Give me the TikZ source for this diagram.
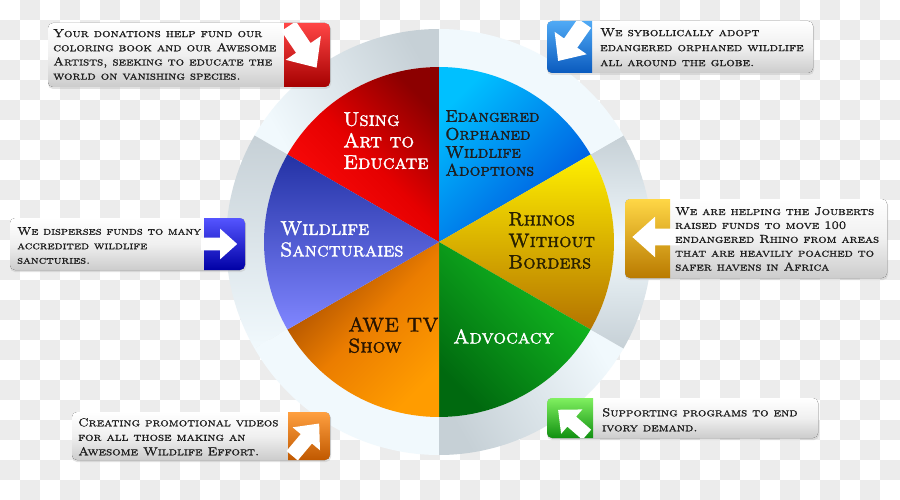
\documentclass[tikz,border=0pt]{standalone}
\usepackage{fontspec}
\newfontfamily\callfont{lmromancaps10-regular.otf}[FakeStretch=1.16,FakeBold=1.2]
\newfontfamily\piefont{lmromancaps10-regular.otf}[FakeBold=1.6]
\definecolor{checker}{HTML}{ECECEC}
\definecolor{ringlight}{HTML}{F1F9FD}
\definecolor{ringgray}{HTML}{C6D0D6}
\definecolor{ctxt}{HTML}{1E1E1E}
\tikzset{
  ctext/.style={anchor=north west, inner sep=0pt, align=left, text=ctxt,
    font=\callfont\fontsize{11.5}{14.2}\selectfont},
  ptext/.style={anchor=north west, inner sep=0pt, align=left,
    font=\piefont\fontsize{20}{21.5}\selectfont},
  boxbody/.style={rounded corners=5pt, top color=white, bottom color=black!20, middle color=black!6},
  boxshadow/.style={rounded corners=5pt, fill=black!25, opacity=0.45},
}
\newcommand\whitearrow[4]{%
  \fill[white, shift={(#1,#2)}, rotate=#3, scale=#4]
    (-22,-7) -- (-1,-7) -- (-1,-17) -- (18,0) -- (-1,17) -- (-1,7) -- (-22,7) -- cycle;}
\newcommand\ringseg[2]{%
  \path[top color=ringgray, bottom color=ringlight, shading angle={(#1+#2)/2+180}]
    (#1:213) arc[start angle=#1, end angle=#2, radius=213] -- (#2:175)
    arc[start angle=#2, end angle=#1, radius=175] -- cycle;}
\begin{document}
\begin{tikzpicture}[x=1pt,y=-1pt]
\useasboundingbox (0,0) rectangle (900,500);
\fill[white] (0,0) rectangle (900,500);
\foreach \i in {0,...,44}{\foreach \j in {0,...,24}{%
  \pgfmathtruncatemacro\chk{mod(\i+\j,2)}%
  \ifnum\chk=1 \fill[checker] (\i*20,\j*20) rectangle ++(20,20);\fi}}
% ---------- pie ----------
\begin{scope}[shift={(439,242)}, y=1pt]
  \ringseg{90}{150}
  \ringseg{150}{210}
  \path[fill=ringlight] (210:213) arc[start angle=210, end angle=270, radius=213] -- (270:175) arc[start angle=270, end angle=210, radius=175] -- cycle;
  \ringseg{270}{330}
  \path[top color=ringgray, bottom color=ringgray, middle color=ringlight] (-30:213) arc[start angle=-30, end angle=30, radius=213] -- (30:175) arc[start angle=30, end angle=-30, radius=175] -- cycle;
  \path[fill=ringlight] (30:213) arc[start angle=30, end angle=90, radius=213] -- (90:175) arc[start angle=90, end angle=30, radius=175] -- cycle;
  % slices
  \path[top color=red!95!white, bottom color=red!55!black, middle color=red!90!black, shading angle=135]
    (0,0) -- (90:175) arc[start angle=90, end angle=150, radius=175] -- cycle;
  \path[top color={rgb,255:red,0;green,192;blue,255}, bottom color={rgb,255:red,0;green,80;blue,220}, shading angle=45]
    (0,0) -- (30:175) arc[start angle=30, end angle=90, radius=175] -- cycle;
  \path[top color={rgb,255:red,255;green,240;blue,0}, bottom color={rgb,255:red,180;green,115;blue,0}, shading angle=0]
    (0,0) -- (-30:175) arc[start angle=-30, end angle=30, radius=175] -- cycle;
  \path[top color={rgb,255:red,20;green,195;blue,35}, bottom color={rgb,255:red,0;green,105;blue,15}, shading angle=315]
    (0,0) -- (270:175) arc[start angle=270, end angle=330, radius=175] -- cycle;
  \path[top color={rgb,255:red,160;green,72;blue,0}, bottom color={rgb,255:red,255;green,156;blue,0}, middle color={rgb,255:red,235;green,125;blue,0}, shading angle=45]
    (0,0) -- (210:175) arc[start angle=210, end angle=270, radius=175] -- cycle;
  \path[top color={rgb,255:red,35;green,50;blue,165}, bottom color={rgb,255:red,128;green,134;blue,255}, shading angle=0]
    (0,0) -- (150:175) arc[start angle=150, end angle=210, radius=175] -- cycle;
\end{scope}
% pie labels
\node[ptext, text=white] (art) at (343,112) {Using\\Art to\\Educate};
\node[ptext, text=ctxt, font=\piefont\fontsize{17}{18}\selectfont] (adopt) at (445,110) {Edangered\\Orphaned\\Wildlife\\Adoptions};
\node[ptext, text={rgb,255:red,40;green,32;blue,0}, font=\piefont\fontsize{19.5}{21.5}\selectfont] (rhino) at (508,212) {Rhinos\\Without\\Borders};
\node[ptext, text=white] (advo) at (453,329) {Advocacy};
\node[ptext, text={rgb,255:red,40;green,20;blue,0}, font=\piefont\fontsize{20}{21}\selectfont] (awe) at (348,317) {AWE TV\\Show};
\node[ptext, text=white] (sanct) at (280,221) {Wildlife\\Sancturaies};
% ---------- callouts ----------
% 1 red
\fill[boxshadow] (48,24) rectangle (331,89);
\fill[boxbody] (48,23) rectangle (330,87);
\begin{scope}
  \clip[rounded corners=5pt] (48,23) rectangle (330,87);
  \path[top color={rgb,255:red,255;green,70;blue,70}, middle color={rgb,255:red,235;green,0;blue,0}, bottom color={rgb,255:red,165;green,0;blue,0}] (284,23) rectangle (330,87);
  \whitearrow{304}{49}{-56}{1.25}
\end{scope}
\node[ctext] (c1) at (53,29) {Your donations help fund our\\coloring book and our Awesome\\Artists, seeking to educate the\\world on vanishing species.};
% 2 blue top right
\fill[boxshadow] (547,22) rectangle (814,75);
\fill[boxbody] (547,21) rectangle (813,73);
\begin{scope}
  \clip[rounded corners=5pt] (547,21) rectangle (813,73);
  \path[top color={rgb,255:red,80;green,170;blue,245}, middle color={rgb,255:red,20;green,128;blue,225}, bottom color={rgb,255:red,10;green,90;blue,190}] (547,21) rectangle (592,73);
  \whitearrow{570}{44}{-125}{1.15}
\end{scope}
\node[ctext, font=\callfont\fontsize{11.6}{15}\selectfont] (c2) at (600,28) {We sybollically adopt\\edangered orphaned wildlife\\all around the globe.};
% 3 blue left
\fill[boxshadow] (10,219) rectangle (246,272);
\fill[boxbody] (10,218) rectangle (245,270);
\begin{scope}
  \clip[rounded corners=5pt] (10,218) rectangle (245,270);
  \path[top color={rgb,255:red,85;green,85;blue,255}, middle color={rgb,255:red,20;green,20;blue,235}, bottom color={rgb,255:red,0;green,0;blue,165}] (204,218) rectangle (245,270);
  \whitearrow{221}{244}{0}{0.9}
\end{scope}
\node[ctext, font=\callfont\fontsize{11}{14.5}\selectfont] (c3) at (17,227) {We disperses funds to many\\accredited wildlife\\sancturies.};
% 4 yellow
\fill[boxshadow] (625,200) rectangle (888,280);
\fill[boxbody] (625,199) rectangle (887,278);
\begin{scope}
  \clip[rounded corners=5pt] (625,199) rectangle (887,278);
  \path[top color={rgb,255:red,255;green,215;blue,70}, middle color={rgb,255:red,240;green,180;blue,0}, bottom color={rgb,255:red,185;green,122;blue,0}] (625,199) rectangle (670,278);
  \whitearrow{654}{237}{180}{1.2}
\end{scope}
\node[ctext, font=\callfont\fontsize{11.4}{13.9}\selectfont] (c4) at (675,207) {We are helping the Jouberts\\raised funds to move 100\\endangered Rhino from areas\\that are heaviliy poached to\\safer havens in Africa};
% 5 orange
\fill[boxshadow] (72,413) rectangle (331,462);
\fill[boxbody] (72,412) rectangle (330,460);
\begin{scope}
  \clip[rounded corners=5pt] (72,412) rectangle (330,460);
  \path[top color={rgb,255:red,255;green,160;blue,64}, middle color={rgb,255:red,240;green,122;blue,0}, bottom color={rgb,255:red,192;green,88;blue,0}] (288,412) rectangle (330,460);
  \whitearrow{307}{438}{50}{1.05}
\end{scope}
\node[ctext, font=\callfont\fontsize{11.5}{14.5}\selectfont] (c5) at (78,418) {Creating promotional videos\\for all those making an\\Awesome Wildlife Effort.};
% 6 green
\fill[boxshadow] (547,399) rectangle (819,440);
\fill[boxbody] (547,398) rectangle (818,438);
\begin{scope}
  \clip[rounded corners=5pt] (547,398) rectangle (818,438);
  \path[top color={rgb,255:red,128;green,240;blue,96}, middle color={rgb,255:red,48;green,192;blue,32}, bottom color={rgb,255:red,16;green,144;blue,16}] (547,398) rectangle (593,438);
  \whitearrow{571}{421}{139}{0.95}
\end{scope}
\node[ctext, font=\callfont\fontsize{11.5}{15}\selectfont] (c6) at (602,408) {Supporting programs to end\\ivory demand.};
\end{tikzpicture}
\end{document}
